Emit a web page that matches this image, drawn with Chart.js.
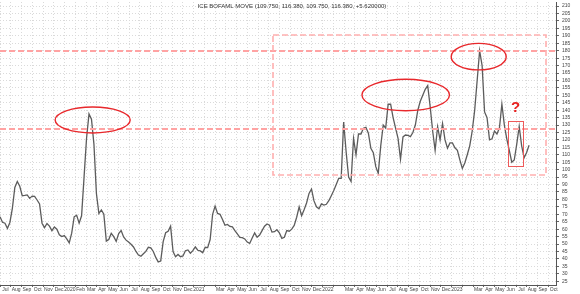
<!doctype html>
<html>
<head>
<meta charset="utf-8">
<title>ICE BofAML MOVE</title>
<script src="https://cdn.jsdelivr.net/npm/chart.js@4.4.1/dist/chart.umd.min.js"></script>
<style>
  html, body { margin: 0; padding: 0; background: #ffffff; }
  #wrap { width: 580px; height: 294px; }
</style>
</head>
<body>
<div id="wrap"><canvas id="chart" width="580" height="294"></canvas></div>
<script>
// Weekly closes of the ICE BofAML MOVE index.
// First value is the week of 1 Jul 2019; x is measured in months from then.
const START_MONTH = 0;
const WEEK_IN_MONTHS = 7 / 30.4375;
const moveValues = [
  68.4, 64.6, 64, 60.5, 64.5, 74, 88, 92, 88.8, 82.5,
  82.7, 83, 80.7, 82.2, 82, 79.6, 77, 64, 61, 63.8,
  62, 59, 61.5, 60, 56.2, 55, 55.7, 53.5, 50.8, 57.3,
  68.3, 69.4, 64, 69, 95, 121, 137.5, 134, 117, 84,
  70.5, 72.9, 70, 52, 53, 57.2, 55, 51.8, 57, 59,
  54.7, 52.6, 51.3, 49.8, 48, 45, 42.6, 41.8, 43.5, 45,
  47.8, 47.4, 45, 41, 38, 38.5, 51.6, 57.6, 58.5, 62,
  45, 41.5, 43, 41.5, 42, 45.5, 46, 43.8, 45.5, 48,
  45.8, 45.4, 44.2, 47.8, 47.6, 53, 70, 75.5, 70.6, 70,
  66.5, 62.6, 63.2, 61.8, 61.5, 59, 56.8, 54.5, 54.3, 53.4,
  51.3, 50.4, 54, 57.5, 54.5, 56, 59, 62, 63.5, 62.6,
  58, 58.3, 59.6, 57.5, 53.8, 54.5, 59, 58.6, 60, 62.5,
  68, 75, 69, 73, 77.6, 84, 87, 79, 75, 73.7,
  77, 76.2, 76.7, 79.1, 82.5, 86, 90, 94.2, 94.2, 132,
  112, 95, 92, 121, 110, 124, 124, 127.8, 128.5, 124.5,
  114.4, 111.4, 102, 97.5, 116, 130, 128, 144, 144, 135,
  128, 121, 107, 122, 123.3, 123, 122.2, 125, 130, 140,
  146, 150, 154, 156.5, 142.3, 126, 113, 128.9, 120, 131,
  120, 114.4, 118, 118, 114.7, 113, 106.6, 100.8, 104.5, 110,
  116, 126, 140, 160, 180, 170, 138.8, 135, 120, 120.7,
  126, 124, 128, 144, 130, 120.5, 113, 105, 106.5, 117,
  129, 116, 108, 111.5, 116.4
];

// one label per month, drawn between the month ticks
const monthLabels = [
  'Jul', 'Aug', 'Sep', 'Oct', 'Nov', 'Dec',
  '2020', 'Feb', 'Mar', 'Apr', 'May', 'Jun', 'Jul', 'Aug', 'Sep', 'Oct', 'Nov', 'Dec',
  '2021', '', 'Mar', 'Apr', 'May', 'Jun', 'Jul', 'Aug', 'Sep', 'Oct', 'Nov', 'Dec',
  '2022', '', 'Mar', 'Apr', 'May', 'Jun', 'Jul', 'Aug', 'Sep', 'Oct', 'Nov', 'Dec',
  '2023', '', 'Mar', 'Apr', 'May', 'Jun', 'Jul', 'Aug', 'Sep', 'Oct'
];

const titleText = 'ICE BOFAML MOVE (109.750, 116.380, 109.750, 116.380, +5.620000)';

// hand-drawn markup on the chart, in data units (months, index points)
const levelLines = [180, 127.3];
const focusBox = { x1: 25.44, x2: 50.78, y1: 96.4, y2: 190.6 };
const ellipses = [
  { x: 8.62, y: 133.4, rx: 3.49, ry: 8.7 },
  { x: 37.74, y: 150.2, rx: 4.07, ry: 10.6 },
  { x: 44.53, y: 176.0, rx: 2.56, ry: 8.9 }
];
const questionBox = { x1: 47.27, x2: 48.67, y1: 102.5, y2: 132.7 };
const questionMark = { x: 47.95, y: 141.5, text: '?' };

const X_MIN = 0, X_MAX = 51.72;
const Y_MIN = 22.44, Y_MAX = 212.75;
const FONT = '"Liberation Sans", Arial, sans-serif';

const isWhole = (v) => Math.abs(v - Math.round(v)) < 1e-6;

const markupPlugin = {
  id: 'markup',
  afterDatasetsDraw(chart) {
    const { ctx, chartArea: a, scales: { x, y } } = chart;
    ctx.save();
    ctx.beginPath();
    ctx.rect(a.left, a.top, a.right - a.left, a.bottom - a.top);
    ctx.clip();

    // pink dashed levels and the box round the last two years
    ctx.strokeStyle = '#ffa3a3';
    ctx.lineWidth = 2;
    ctx.setLineDash([6, 3]);
    levelLines.forEach((lv) => {
      const py = Math.round(y.getPixelForValue(lv));
      ctx.beginPath();
      ctx.moveTo(a.left, py);
      ctx.lineTo(a.right, py);
      ctx.stroke();
    });
    ctx.strokeStyle = '#ffb0b0';
    ctx.lineWidth = 1.6;
    const bx1 = Math.round(x.getPixelForValue(focusBox.x1));
    const bx2 = Math.round(x.getPixelForValue(focusBox.x2));
    const by1 = Math.round(y.getPixelForValue(focusBox.y2));
    const by2 = Math.round(y.getPixelForValue(focusBox.y1));
    ctx.strokeRect(bx1, by1, bx2 - bx1, by2 - by1);

    ctx.setLineDash([]);
    ctx.strokeStyle = '#e8282c';
    ctx.lineWidth = 1.4;
    ellipses.forEach((e) => {
      const cx = x.getPixelForValue(e.x);
      const cy = y.getPixelForValue(e.y);
      const rx = x.getPixelForValue(e.x + e.rx) - cx;
      const ry = cy - y.getPixelForValue(e.y + e.ry);
      ctx.beginPath();
      ctx.ellipse(cx, cy, rx, ry, 0, 0, Math.PI * 2);
      ctx.stroke();
    });

    ctx.strokeStyle = '#ee5a5a';
    ctx.lineWidth = 1;
    const qx1 = Math.round(x.getPixelForValue(questionBox.x1)) + 0.5;
    const qx2 = Math.round(x.getPixelForValue(questionBox.x2)) + 0.5;
    const qy1 = Math.round(y.getPixelForValue(questionBox.y2)) + 0.5;
    const qy2 = Math.round(y.getPixelForValue(questionBox.y1)) + 0.5;
    ctx.strokeRect(qx1, qy1, qx2 - qx1, qy2 - qy1);

    ctx.fillStyle = '#e8201f';
    ctx.font = 'bold 15px ' + FONT;
    ctx.textAlign = 'center';
    ctx.textBaseline = 'middle';
    ctx.fillText(questionMark.text, x.getPixelForValue(questionMark.x), y.getPixelForValue(questionMark.y));

    ctx.fillStyle = '#333';
    ctx.font = '6px ' + FONT;
    ctx.fillText(titleText, 292, 6);
    ctx.restore();
  }
};

new Chart(document.getElementById('chart'), {
  type: 'line',
  data: {
    datasets: [{
      data: moveValues.map((v, i) => ({ x: START_MONTH + i * WEEK_IN_MONTHS, y: v })),
      borderColor: '#5c5c5c',
      borderWidth: 1.3,
      pointRadius: 0,
      tension: 0
    }]
  },
  options: {
    responsive: false,
    animation: false,
    layout: { padding: { top: 2, left: 0, right: 0, bottom: 0 } },
    plugins: { legend: { display: false }, tooltip: { enabled: false } },
    scales: {
      x: {
        type: 'linear',
        min: X_MIN,
        max: X_MAX,
        afterFit(s) {
          s.height = 9;
          s.paddingLeft = 0;
          s.paddingRight = 0;
        },
        ticks: {
          stepSize: 0.5,
          autoSkip: false,
          maxRotation: 0,
          includeBounds: false,
          padding: 0,
          color: '#444',
          font: { size: 5, family: FONT },
          callback(v) {
            if (isWhole(v)) return '';
            return monthLabels[Math.floor(v)] || '';
          }
        },
        grid: {
          color: (c) => (c.tick && isWhole(c.tick.value) ? '#dadada' : 'rgba(0,0,0,0)'),
          tickColor: (c) => (c.tick && isWhole(c.tick.value) ? '#666' : 'rgba(0,0,0,0)'),
          tickLength: 2
        },
        border: { color: '#555', dash: [1, 2] }
      },
      y: {
        position: 'right',
        min: Y_MIN,
        max: Y_MAX,
        afterFit(s) {
          s.width = 24;
          s.paddingTop = 0;
          s.paddingBottom = 0;
        },
        ticks: {
          stepSize: 5,
          autoSkip: false,
          includeBounds: false,
          padding: 3,
          color: '#444',
          font: { size: 5, family: FONT }
        },
        grid: { color: '#dadada', tickColor: '#666', tickLength: 3 },
        border: { color: '#555', dash: [1, 2] }
      }
    }
  },
  plugins: [markupPlugin]
});
</script>
</body>
</html>
